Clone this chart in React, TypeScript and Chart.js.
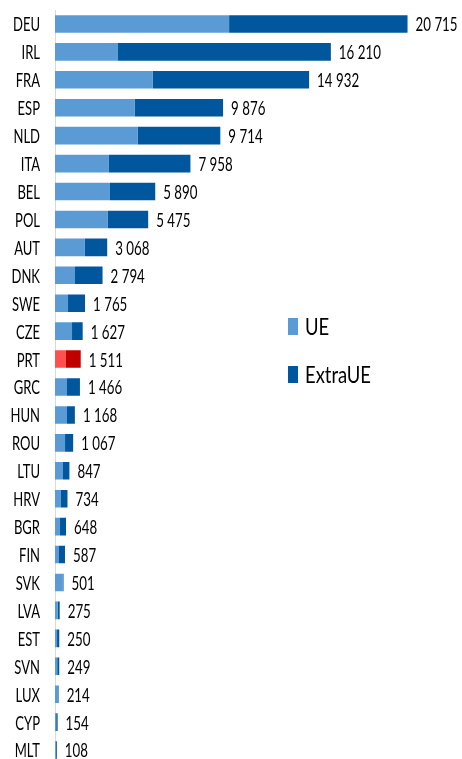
import React, { useEffect, useRef } from "react";
import { Chart, registerables } from "chart.js";

Chart.register(...registerables);

const countries = ["DEU","IRL","FRA","ESP","NLD","ITA","BEL","POL","AUT","DNK","SWE","CZE","PRT","GRC","HUN","ROU","LTU","HRV","BGR","FIN","SVK","LVA","EST","SVN","LUX","CYP","MLT"];
const totals = [20715,16210,14932,9876,9714,7958,5890,5475,3068,2794,1765,1627,1511,1466,1168,1067,847,734,648,587,501,275,250,249,214,154,108];
const ueValues = [10230,3700,5750,4695,4870,3170,3230,3110,1760,1175,765,1000,645,705,705,590,470,350,295,235,440,150,120,130,180,70,40];
const extraUeValues = totals.map((t, i) => t - ueValues[i]);
const highlight = "PRT";

const UE_COLOR = "#5B9BD5";
const EXTRA_COLOR = "#00579E";
const UE_HL = "#FF5050";
const EXTRA_HL = "#C00000";

const FONT = 'Lato, "Liberation Sans", sans-serif';

const fmt = (v: number) => String(v).replace(/\B(?=(\d{3})+(?!\d))/g, " ");

function squeezedText(ctx: any, text: string, x: number, y: number, sx: number, align: "left" | "right") {
  ctx.save();
  ctx.translate(x, y);
  ctx.scale(sx, 1);
  ctx.textAlign = align;
  ctx.fillText(text, 0, 0);
  ctx.restore();
}

const textPlugin = {
  id: "texts",
  afterDraw(chart: any) {
    const ctx = chart.ctx;
    ctx.save();
    ctx.fillStyle = "#000";
    ctx.textBaseline = "middle";

    // category labels (y axis)
    const yScale = chart.scales.y;
    ctx.font = `20px ${FONT}`;
    const sxTick = 27 / ctx.measureText("DEU").width;
    (chart.data.labels as string[]).forEach((lab, i) => {
      const y = yScale.getPixelForValue(i);
      squeezedText(ctx, lab, yScale.right - 15, y + 1, sxTick, "right");
    });

    // totals at bar ends
    const sxVal = 42 / ctx.measureText("20 715").width;
    const meta = chart.getDatasetMeta(1);
    meta.data.forEach((bar: any, i: number) => {
      squeezedText(ctx, fmt(totals[i]), bar.x + 8, bar.y + 1, sxVal, "left");
    });

    // legend
    ctx.font = `24px ${FONT}`;
    const sxLeg = 66 / ctx.measureText("ExtraUE").width;
    chart.data.datasets.forEach((ds: any, i: number) => {
      const y = 318 + i * 48;
      ctx.fillStyle = ds.legendColor;
      ctx.fillRect(280, y - 8, 10, 17);
      ctx.fillStyle = "#000";
      squeezedText(ctx, ds.label, 297, y + 1, sxLeg, "left");
    });
    ctx.restore();
  },
};

export default function App() {
  const ref = useRef<HTMLCanvasElement>(null);
  useEffect(() => {
    if (!ref.current) return;
    const chart = new Chart(ref.current, {
      type: "bar",
      data: {
        labels: countries,
        datasets: [
          {
            label: "UE",
            data: ueValues,
            backgroundColor: countries.map((c) => (c === highlight ? UE_HL : UE_COLOR)),
            legendColor: UE_COLOR,
            barPercentage: 0.63,
            categoryPercentage: 1,
          } as any,
          {
            label: "ExtraUE",
            data: extraUeValues,
            backgroundColor: countries.map((c) => (c === highlight ? EXTRA_HL : EXTRA_COLOR)),
            legendColor: EXTRA_COLOR,
            barPercentage: 0.63,
            categoryPercentage: 1,
          } as any,
        ],
      },
      options: {
        indexAxis: "y",
        responsive: false,
        animation: false,
        layout: { autoPadding: false, padding: { top: 2, bottom: 0, right: 32.6, left: 47 } },
        plugins: { legend: { display: false }, tooltip: { enabled: false } },
        scales: {
          x: { stacked: true, display: false, min: 0, max: 22000 },
          y: {
            stacked: true,
            grid: { display: false, drawTicks: false },
            border: { display: true, color: "#d9d9d9", width: 1 },
            ticks: { display: false },
            afterFit: (scale: any) => {
              scale.width = 0;
            },
          },
        },
      },
      plugins: [textPlugin],
    });
    return () => chart.destroy();
  }, []);
  return (
    <canvas
      ref={ref}
      width={454}
      height={756}
      style={{ display: "block", position: "fixed", top: 8, left: 8 }}
    />
  );
}
